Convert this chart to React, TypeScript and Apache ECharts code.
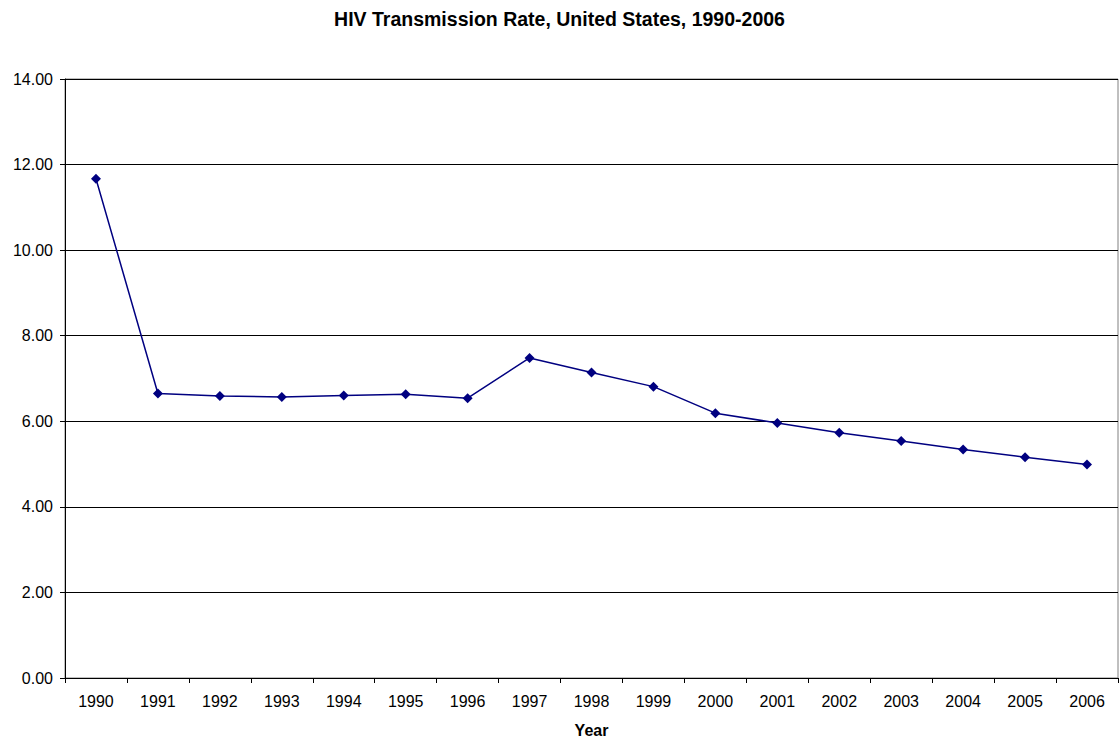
import React, { useEffect, useRef } from "react";
import * as echarts from "echarts";

const years = ["1990","1991","1992","1993","1994","1995","1996","1997","1998","1999","2000","2001","2002","2003","2004","2005","2006"];
const rates = [11.67, 6.65, 6.59, 6.57, 6.60, 6.63, 6.54, 7.48, 7.14, 6.81, 6.19, 5.96, 5.73, 5.54, 5.34, 5.16, 4.99];

const FONT = "'Liberation Sans', Arial, sans-serif";

export default function App() {
  const ref = useRef<HTMLDivElement>(null);
  useEffect(() => {
    const chart = echarts.init(ref.current!, null, { renderer: "svg" });
    chart.setOption({
      animation: false,
      backgroundColor: "#ffffff",
      title: {
        text: "HIV Transmission Rate, United States, 1990-2006",
        left: "center",
        top: 4,
        textStyle: { fontFamily: FONT, fontSize: 19.5, fontWeight: "bold", color: "#000" },
      },
      grid: { left: 65, right: 1, top: 79, bottom: 64, show: true, borderColor: "#808080", borderWidth: 1, backgroundColor: "transparent" },
      xAxis: {
        type: "category",
        data: years,
        boundaryGap: true,
        name: "Year",
        nameLocation: "middle",
        nameGap: 44,
        nameTextStyle: { fontFamily: FONT, fontSize: 16, fontWeight: "bold", color: "#000" },
        axisLine: { lineStyle: { color: "#000", width: 1 } },
        axisTick: { show: true, length: 5, lineStyle: { color: "#000" }, alignWithLabel: false },
        axisLabel: { fontFamily: FONT, fontSize: 16, color: "#000", margin: 15 },
        splitLine: { show: false },
      },
      yAxis: {
        type: "value",
        min: 0,
        max: 14,
        interval: 2,
        axisLine: { show: true, lineStyle: { color: "#000", width: 1 } },
        axisTick: { show: true, length: 5, lineStyle: { color: "#000" } },
        axisLabel: { fontFamily: FONT, fontSize: 16, color: "#000", margin: 12, formatter: (v: number) => v.toFixed(2) },
        splitLine: { show: true, lineStyle: { color: "#000", width: 1 } },
      },
      series: [
        {
          type: "line",
          data: rates,
          symbol: "diamond",
          symbolSize: 10,
          lineStyle: { color: "#000080", width: 1.5 },
          itemStyle: { color: "#000080" },
        },
      ],
    });
    return () => chart.dispose();
  }, []);
  return (
    <div
      ref={ref}
      style={{ position: "fixed", left: 0, top: 0, width: 1119, height: 743 }}
    />
  );
}
